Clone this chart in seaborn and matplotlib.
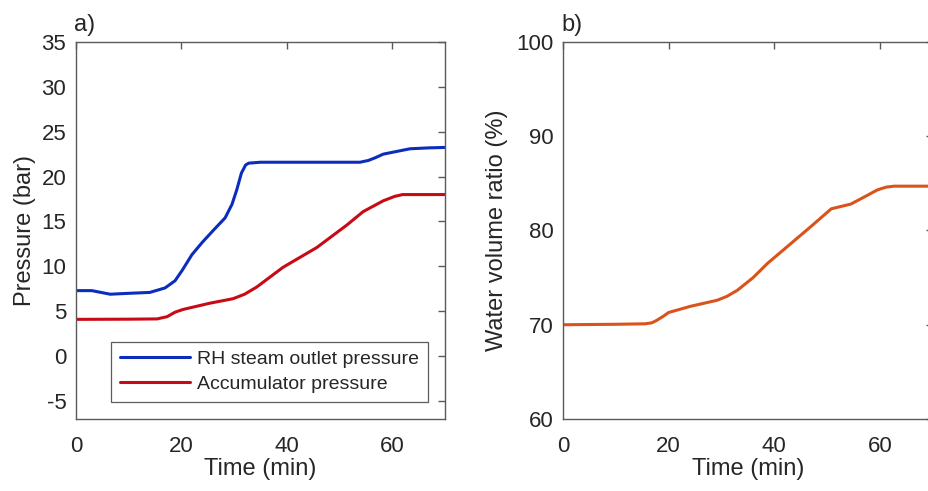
import numpy as np
import pandas as pd
import matplotlib
matplotlib.use('Agg')
import matplotlib.pyplot as plt
import seaborn as sns

t_rh = [0, 3, 6.5, 10, 14, 16.9, 18.8, 20.2, 22, 24, 26.2, 28.3, 29.6, 30.5, 31.4, 32.2, 32.8, 35, 45, 53.9, 55.5, 56.8, 58.3, 60, 63.4, 67, 70]
p_rh = [7.3, 7.3, 6.9, 7.0, 7.1, 7.6, 8.4, 9.6, 11.3, 12.7, 14.1, 15.4, 16.9, 18.5, 20.4, 21.3, 21.5, 21.6, 21.6, 21.6, 21.8, 22.1, 22.5, 22.7, 23.1, 23.2, 23.25]
t_acc = [0, 10, 15.4, 17.3, 18.8, 20.3, 25.4, 29.8, 32, 34.3, 39.3, 45.7, 51.4, 54.5, 58.3, 60.5, 62, 65, 70]
p_acc = [4.1, 4.12, 4.15, 4.4, 4.9, 5.2, 5.9, 6.4, 6.9, 7.7, 9.9, 12.1, 14.6, 16.1, 17.3, 17.8, 18.0, 18.0, 18.0]
t_w = [0, 10, 15.5, 16.8, 17.7, 19, 20, 24.1, 29.2, 31, 33, 36, 38.7, 42.7, 46.9, 50.8, 54.5, 57.2, 59.5, 61.2, 62.7, 65, 70]
w_ratio = [70.0, 70.05, 70.1, 70.2, 70.45, 70.9, 71.3, 71.95, 72.6, 73.0, 73.65, 75.0, 76.5, 78.4, 80.4, 82.3, 82.8, 83.6, 84.3, 84.6, 84.7, 84.7, 84.7]

sns.set_style('white')
plt.rcParams['font.family'] = ['Liberation Sans', 'DejaVu Sans']
plt.rcParams['axes.unicode_minus'] = False
plt.rcParams['axes.edgecolor'] = '#5a5a5a'
plt.rcParams['xtick.color'] = '#5a5a5a'
plt.rcParams['ytick.color'] = '#5a5a5a'
plt.rcParams['xtick.labelcolor'] = '#262626'
plt.rcParams['ytick.labelcolor'] = '#262626'

fig = plt.figure(figsize=(9.29, 4.91), dpi=100)
ax1 = fig.add_axes([0.0818, 0.1466, 0.397, 0.768])
ax2 = fig.add_axes([0.606, 0.1466, 0.398, 0.768])

df1 = pd.DataFrame({'Time': t_rh, 'Pressure': p_rh})
df2 = pd.DataFrame({'Time': t_acc, 'Pressure': p_acc})
df3 = pd.DataFrame({'Time': t_w, 'Ratio': w_ratio})

sns.lineplot(data=df1, x='Time', y='Pressure', ax=ax1, color='#0b2dbd', lw=2.2,
             label='RH steam outlet pressure')
sns.lineplot(data=df2, x='Time', y='Pressure', ax=ax1, color='#c80a14', lw=2.2,
             label='Accumulator pressure')
sns.lineplot(data=df3, x='Time', y='Ratio', ax=ax2, color='#d9531a', lw=2.2)

for ax in (ax1, ax2):
    ax.set_xlim(0, 70)
    ax.set_xticks([0, 20, 40, 60])
    ax.tick_params(direction='in', length=5, width=1, top=True, right=True,
                   labelsize=16)
    ax.tick_params(axis='x', pad=12)
    ax.tick_params(axis='y', pad=7)
    for s in ax.spines.values():
        s.set_linewidth(1.0)
    ax.set_xlabel('Time (min)', fontsize=17, color='#262626', labelpad=1)

ax1.set_ylim(-7, 35)
ax1.set_yticks(range(-5, 36, 5))
ax1.set_ylabel('Pressure (bar)', fontsize=17, color='#262626', labelpad=4)
ax2.set_ylim(60, 100)
ax2.set_yticks([60, 70, 80, 90, 100])
ax2.set_ylabel('Water volume ratio (%)', fontsize=17, color='#262626', labelpad=6)

ax1.set_title('a)', loc='left', fontsize=17, x=-0.005, pad=8)
ax2.set_title('b)', loc='left', fontsize=17, x=-0.005, pad=8)

leg = ax1.legend(loc='lower right', bbox_to_anchor=(0.955, 0.045), fontsize=14,
                 frameon=True, fancybox=False, handlelength=3.6, handletextpad=0.4,
                 borderpad=0.45, labelspacing=0.4, borderaxespad=0)
leg.get_frame().set_edgecolor('#333333')
leg.get_frame().set_linewidth(0.9)

fig.savefig('out.png', dpi=100)
